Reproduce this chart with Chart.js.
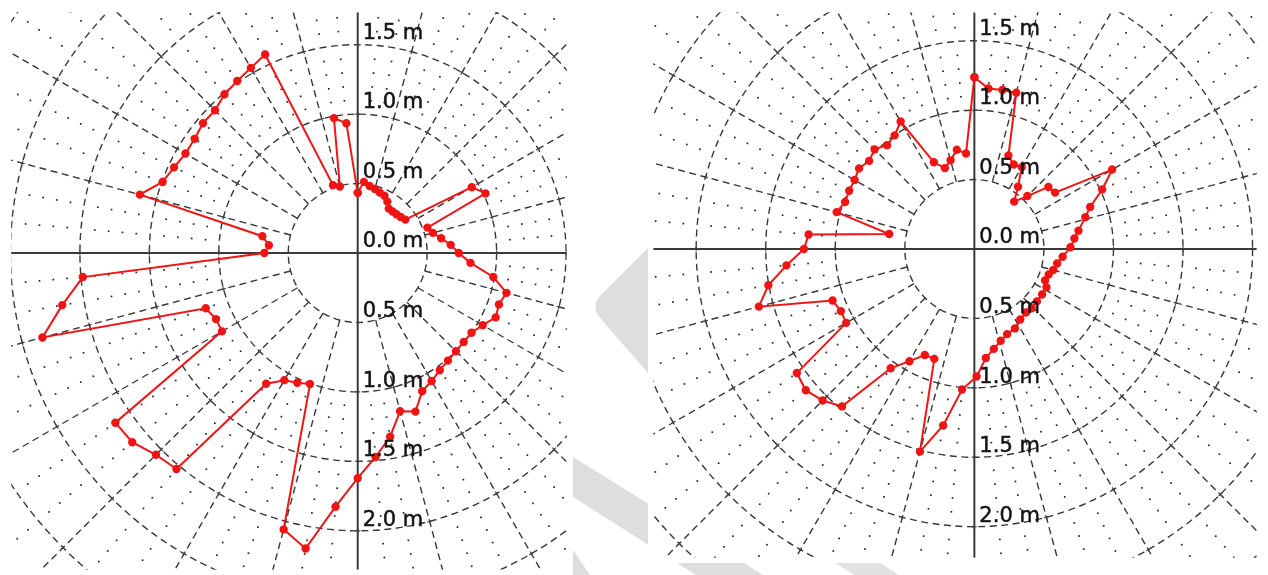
<!DOCTYPE html>
<html>
<head>
<meta charset="utf-8">
<script src="https://cdn.jsdelivr.net/npm/chart.js@4/dist/chart.umd.min.js"></script>
<style>
  html, body { margin: 0; padding: 0; background: #ffffff; }
  #page { position: relative; width: 1268px; height: 575px; overflow: hidden; background: #ffffff; }
  #wm { position: absolute; left: 0; top: 0; }
  canvas { position: absolute; }
  #c1 { left: 6px; top: 7px; }
  #c2 { left: 648px; top: 7px; }
</style>
</head>
<body>
<div id="page">
  <svg id="wm" width="1268" height="575">
    <path d="M648,248 L600,296 Q591,307 600,318 L648,373 Z" fill="#dedede"/>
    <path d="M573,457 L763,575 L696,575 L573,497 Z" fill="#dedede"/>
    <path d="M573,550 L590,575 L573,575 Z" fill="#dedede"/>
    <path d="M835,563 L880,563 L899,575 L854,575 Z" fill="#e2e2e2"/>
  </svg>
  <canvas id="c1" width="566" height="568"></canvas>
  <canvas id="c2" width="614" height="556"></canvas>
</div>
<script>
// ---------- data (bearing in degrees clockwise from north, radius in metres) ----------
const leftAngles = [0,5,10,15,20,25,30,35,40,45,50,55,
  60,65,70,75,80,85,90,95,100,105,110,115,
  120,125,130,135,140,145,150,155,160,165,170,175,
  180,185,190,195,200,205,210,215,220,225,230,235,
  240,245,250,255,260,265,270,275,280,285,290,295,
  300,305,310,315,320,325,330,335,340,345,350,355];
const leftRadii = [0.433,0.514,0.49,0.477,0.463,0.455,0.427,0.39,0.39,0.394,0.404,0.419,
  0.948,1.015,0.534,0.56,0.61,0.672,0.727,0.815,0.991,1.109,1.082,1.096,
  1.039,1.0,0.996,1.0,1.011,1.03,1.064,1.098,1.215,1.179,1.343,1.474,
  1.621,1.833,2.16,2.06,1.004,1.03,1.057,1.149,2.03,2.054,2.119,2.13,
  1.128,1.126,1.164,2.35,2.16,1.987,0.672,0.642,0.697,1.624,1.495,1.459,
  1.432,1.433,1.454,1.453,1.492,1.512,1.539,1.577,0.52,0.496,0.986,0.938];

const rightAngles = [0,5,10,15,20,25,30,35,40,45,50,55,
  60,65,70,74,80,84,89,95,100,105,109,114,
  118,124,130,136,141,147,153,159,164,169,174,179,
  185,190,195,200,205,210,215,220,225,230,235,
  240,245,250,255,260,265,270,275,280,285,290,295,
  300,305,310,315,320,325,330,335,340,345,350,355];
const rightRadii = [1.237,1.16,1.163,1.165,0.716,0.671,0.681,0.547,0.445,0.539,0.695,0.708,
  1.144,1.014,0.886,0.83,0.76,0.723,0.691,0.637,0.604,0.587,0.565,0.556,
  0.587,0.587,0.587,0.593,0.588,0.606,0.642,0.657,0.687,0.733,0.789,0.919,
  1.016,1.291,1.511,0.842,0.843,0.933,1.049,1.48,1.543,1.582,1.558,
  1.064,1.059,1.085,1.604,1.504,1.356,1.225,1.196,0.622,1.025,0.989,0.993,
  0.994,1.012,0.987,1.015,0.976,0.999,1.06,0.689,0.62,0.661,0.726,0.69];

const tickValues = [0.0, 0.5, 1.0, 1.5, 2.0];
const tickUnit = ' m';

// ---------- helpers ----------
function polarToXY(angles, radii) {
  const pts = angles.map((a, i) => {
    const t = a * Math.PI / 180;
    return { x: radii[i] * Math.sin(t), y: radii[i] * Math.cos(t) };
  });
  pts.push({ ...pts[0] }); // closed outline
  return pts;
}

const polarGrid = {
  id: 'polarGrid',
  beforeDraw(chart) {
    const { ctx, chartArea: a, scales: { x, y } } = chart;
    const cx = x.getPixelForValue(0), cy = y.getPixelForValue(0);
    const kx = x.getPixelForValue(1) - cx, ky = cy - y.getPixelForValue(1);
    ctx.save();
    ctx.fillStyle = '#ffffff';
    ctx.fillRect(0, 0, chart.width, chart.height);
    ctx.beginPath();
    ctx.rect(a.left, a.top, a.right - a.left, a.bottom - a.top);
    ctx.clip();
    const rMax = 3.6;
    // minor dotted lattice (only outside the 1.0 m ring)
    ctx.fillStyle = '#262626';
    for (let i = 11; i <= 36; i++) {
      if (i % 5 === 0) continue;
      const r = i / 10;
      for (let d = 0; d < 360; d += 5) {
        if (d % 15 === 0) continue;
        const t = d * Math.PI / 180;
        const px = cx + r * kx * Math.sin(t), py = cy - r * ky * Math.cos(t);
        ctx.fillRect(px - 0.85, py - 0.85, 1.7, 1.7);
      }
    }
    // dashed rings
    ctx.strokeStyle = '#383838';
    ctx.lineWidth = 1.4;
    ctx.setLineDash([7, 4.5]);
    for (let i = 1; i <= 7; i++) {
      const r = i * 0.5;
      ctx.beginPath();
      ctx.ellipse(cx, cy, r * kx, r * ky, 0, 0, Math.PI * 2);
      ctx.stroke();
    }
    // dashed radial lines
    for (let d = 15; d < 360; d += 15) {
      if (d % 90 === 0) continue;
      const t = d * Math.PI / 180;
      ctx.beginPath();
      ctx.moveTo(cx + 0.5 * kx * Math.sin(t), cy - 0.5 * ky * Math.cos(t));
      ctx.lineTo(cx + rMax * kx * Math.sin(t), cy - rMax * ky * Math.cos(t));
      ctx.stroke();
    }
    // small crosses where major lines meet
    ctx.setLineDash([]);
    ctx.strokeStyle = '#444';
    ctx.lineWidth = 1.1;
    for (let i = 2; i <= 7; i++) {
      const r = i * 0.5;
      for (let d = 0; d < 360; d += 15) {
        const t = d * Math.PI / 180;
        const px = cx + r * kx * Math.sin(t), py = cy - r * ky * Math.cos(t);
        const ux = Math.sin(t), uy = -Math.cos(t);
        ctx.beginPath();
        ctx.moveTo(px - ux * 2.5, py - uy * 2.5); ctx.lineTo(px + ux * 2.5, py + uy * 2.5);
        ctx.moveTo(px - uy * 2.5, py + ux * 2.5); ctx.lineTo(px + uy * 2.5, py - ux * 2.5);
        ctx.stroke();
      }
    }
    // solid axes
    ctx.strokeStyle = '#3a3a3a';
    ctx.lineWidth = 2;
    ctx.beginPath();
    ctx.moveTo(a.left, cy); ctx.lineTo(a.right, cy);
    ctx.moveTo(cx, a.top); ctx.lineTo(cx, a.bottom);
    ctx.stroke();
    ctx.restore();
  },
  afterDatasetsDraw(chart) {
    const { ctx, chartArea: a, scales: { x, y } } = chart;
    const cx = x.getPixelForValue(0), cy = y.getPixelForValue(0);
    const ky = cy - y.getPixelForValue(1);
    ctx.save();
    ctx.font = '21px "DejaVu Sans", Verdana, sans-serif';
    ctx.fillStyle = '#141414';
    ctx.strokeStyle = '#141414';
    ctx.lineWidth = 0.5;
    ctx.textAlign = 'left';
    ctx.textBaseline = 'alphabetic';
    tickValues.forEach(v => {
      const txt = v.toFixed(1) + tickUnit;
      const yu = cy - v * ky - 6;
      if (yu - 16 > a.top - 3) { ctx.fillText(txt, cx + 5, yu); ctx.strokeText(txt, cx + 5, yu); }
      if (v > 0) {
        const yl = cy + v * ky - 5;
        if (yl < a.bottom) { ctx.fillText(txt, cx + 5, yl); ctx.strokeText(txt, cx + 5, yl); }
      }
    });
    ctx.restore();
  }
};

function makeChart(id, angles, radii, range) {
  return new Chart(document.getElementById(id), {
    type: 'scatter',
    data: {
      datasets: [{
        data: polarToXY(angles, radii),
        showLine: true,
        borderColor: '#f01414',
        backgroundColor: '#f01414',
        borderWidth: 2,
        pointRadius: 3.2,
        pointHoverRadius: 3.2,
        tension: 0
      }]
    },
    options: {
      responsive: false,
      animation: false,
      devicePixelRatio: 1,
      layout: { padding: 0 },
      plugins: { legend: { display: false }, tooltip: { enabled: false } },
      scales: {
        x: { type: 'linear', display: false, min: range.xmin, max: range.xmax },
        y: { type: 'linear', display: false, min: range.ymin, max: range.ymax }
      }
    },
    plugins: [polarGrid]
  });
}

// scale ranges (metres) – 141.5 px per metre
makeChart('c1', leftAngles, leftRadii, { xmin: -353 / 141.5, xmax: 213 / 141.5, ymin: -322.7 / 141.5, ymax: 245.3 / 141.5 });
makeChart('c2', rightAngles, rightRadii, { xmin: -326.7 / 141.5, xmax: 287.3 / 141.5, ymin: -314.7 / 141.5, ymax: 241.3 / 141.5 });
</script>
</body>
</html>
